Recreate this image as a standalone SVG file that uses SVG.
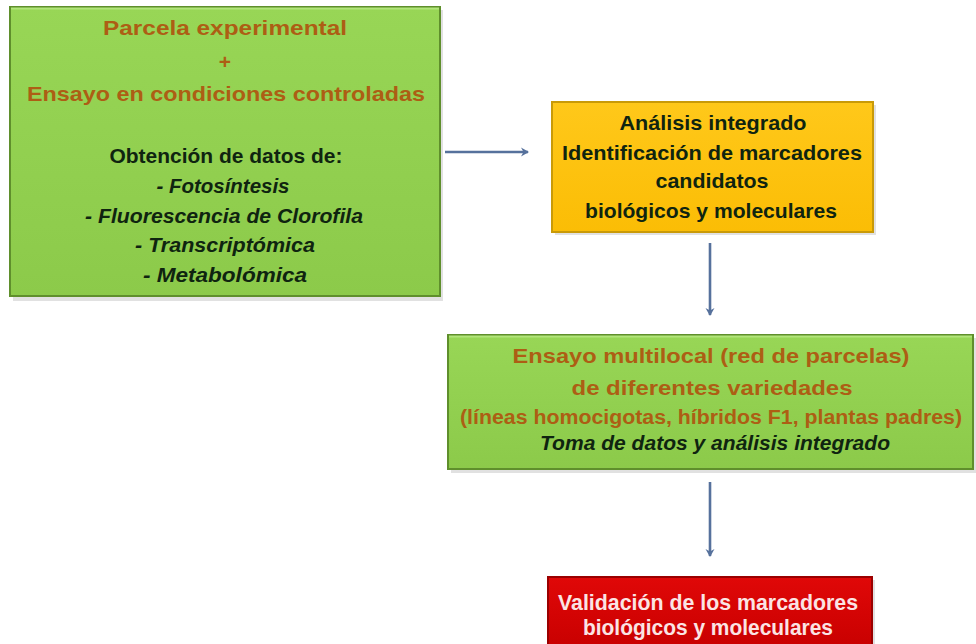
<svg xmlns="http://www.w3.org/2000/svg" width="976" height="644" viewBox="0 0 976 644">
  <defs>
    <linearGradient id="gGreen" x1="0" y1="0" x2="0" y2="1">
      <stop offset="0" stop-color="#98d656"/>
      <stop offset="1" stop-color="#8cca4a"/>
    </linearGradient>
    <linearGradient id="gOrange" x1="0" y1="0" x2="0" y2="1">
      <stop offset="0" stop-color="#ffc81a"/>
      <stop offset="1" stop-color="#fbbd05"/>
    </linearGradient>
    <linearGradient id="gRed" x1="0" y1="0" x2="0" y2="1">
      <stop offset="0" stop-color="#e00808"/>
      <stop offset="1" stop-color="#c80000"/>
    </linearGradient>
    <marker id="arr" markerWidth="10" markerHeight="10" refX="7" refY="5" orient="auto" markerUnits="userSpaceOnUse">
      <path d="M0,0.5 L8,5 L0,9.5 L2.5,5 Z" fill="#56719c"/>
    </marker>
    <style>
      .t { font-family: "Liberation Sans", Arial, sans-serif; font-weight: bold; text-anchor: middle; }
      .or { fill: #ad5e14; font-size: 21px; }
      .dk { fill: #0f2410; font-size: 21px; }
      .it { font-style: italic; font-size: 20px; }
      .wh { fill: #fbe4e4; font-size: 22px; }
      .edge { stroke: #56719c; stroke-width: 2.6; fill: none; marker-end: url(#arr); }
      .shadow { fill: #c8c8c8; opacity: 0.55; }
    </style>
  </defs>

  <rect width="976" height="644" fill="#ffffff"/>

  <g id="connectors">
    <line class="edge" x1="445" y1="152" x2="528" y2="152"/>
    <line class="edge" x1="710" y1="243" x2="710" y2="315"/>
    <line class="edge" x1="710" y1="482" x2="710" y2="556"/>
  </g>

  <g id="node-parcela">
    <rect class="shadow" x="13" y="10" width="430" height="291"/>
    <rect x="10" y="7" width="430" height="289" fill="url(#gGreen)" stroke="#5f8f2c" stroke-width="2"/>
    <line x1="11" y1="8.5" x2="439" y2="8.5" stroke="#b2e57a" stroke-width="2"/>
    <text class="t or" x="225" y="35" textLength="244" lengthAdjust="spacingAndGlyphs">Parcela experimental</text>
    <text class="t or" x="225" y="69">+</text>
    <text class="t or" x="226" y="101" textLength="398" lengthAdjust="spacingAndGlyphs">Ensayo en condiciones controladas</text>
    <text class="t dk" x="226" y="163" textLength="233" lengthAdjust="spacingAndGlyphs">Obtención de datos de:</text>
    <text class="t dk it" x="223" y="193" textLength="133" lengthAdjust="spacingAndGlyphs">- Fotosíntesis</text>
    <text class="t dk it" x="224" y="223" textLength="278" lengthAdjust="spacingAndGlyphs">- Fluorescencia de Clorofila</text>
    <text class="t dk it" x="225" y="252" textLength="180" lengthAdjust="spacingAndGlyphs">- Transcriptómica</text>
    <text class="t dk it" x="225" y="282" textLength="164" lengthAdjust="spacingAndGlyphs">- Metabolómica</text>
  </g>

  <g id="node-analisis">
    <rect class="shadow" x="555" y="105" width="321" height="130"/>
    <rect x="552" y="102" width="321" height="130" fill="url(#gOrange)" stroke="#c99a08" stroke-width="2"/>
    <text class="t dk" x="713" y="130" textLength="187" lengthAdjust="spacingAndGlyphs">Análisis integrado</text>
    <text class="t dk" x="712" y="160" textLength="300" lengthAdjust="spacingAndGlyphs">Identificación de marcadores</text>
    <text class="t dk" x="712" y="188" textLength="113" lengthAdjust="spacingAndGlyphs">candidatos</text>
    <text class="t dk" x="711" y="218" textLength="252" lengthAdjust="spacingAndGlyphs">biológicos y moleculares</text>
  </g>

  <g id="node-ensayo">
    <rect class="shadow" x="451" y="338" width="525" height="135"/>
    <rect x="448" y="335" width="525" height="134" fill="url(#gGreen)" stroke="#5f8f2c" stroke-width="2"/>
    <line x1="449" y1="336.5" x2="972" y2="336.5" stroke="#b2e57a" stroke-width="2"/>
    <text class="t or" x="711" y="363" textLength="397" lengthAdjust="spacingAndGlyphs">Ensayo multilocal (red de parcelas)</text>
    <text class="t or" x="712" y="395" textLength="281" lengthAdjust="spacingAndGlyphs">de diferentes variedades</text>
    <text class="t or" x="711" y="424" textLength="502" lengthAdjust="spacingAndGlyphs" style="font-size:20px">(líneas homocigotas, híbridos F1, plantas padres)</text>
    <text class="t dk it" x="715" y="450" textLength="350" lengthAdjust="spacingAndGlyphs">Toma de datos y análisis integrado</text>
  </g>

  <g id="node-validacion">
    <rect class="shadow" x="551" y="580" width="324" height="70"/>
    <rect x="548" y="577" width="324" height="72" fill="url(#gRed)" stroke="#9a0000" stroke-width="2"/>
    <text class="t wh" x="708" y="610" textLength="300" lengthAdjust="spacingAndGlyphs">Validación de los marcadores</text>
    <text class="t wh" x="708" y="635" textLength="250" lengthAdjust="spacingAndGlyphs">biológicos y moleculares</text>
  </g>
</svg>
